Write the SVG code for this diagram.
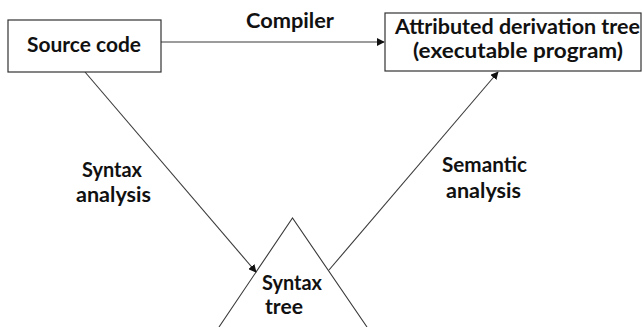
<svg xmlns="http://www.w3.org/2000/svg" width="643" height="327" viewBox="0 0 643 327">
  <defs>
    <style>
      .box { fill: #ffffff; stroke: #333333; stroke-width: 1.2; }
      .edge { fill: none; stroke: #3a3a3a; stroke-width: 1.1; }
      .lbl { font-family: Lato, "Open Sans", sans-serif; font-weight: bold; font-size: 20px; fill: #111111; }
    </style>
    <marker id="arrow" viewBox="0 0 10 10" refX="9" refY="5" markerWidth="8" markerHeight="8" markerUnits="userSpaceOnUse" orient="auto">
      <path d="M0,0 L10,5 L0,10 z" fill="#111111"/>
    </marker>
  </defs>
  <rect width="643" height="327" fill="#ffffff"/>

  <g id="syntax-tree">
    <polyline class="edge" points="219,327 292.5,218 367,327"/>
    <text class="lbl" x="262" y="290" textLength="60" lengthAdjust="spacingAndGlyphs">Syntax</text>
    <text class="lbl" x="265" y="314" textLength="38" lengthAdjust="spacingAndGlyphs">tree</text>
  </g>

  <g id="connectors">
    <line class="edge" x1="161" y1="42" x2="384" y2="42" marker-end="url(#arrow)"/>
    <line class="edge" x1="85" y1="72" x2="256" y2="272" marker-end="url(#arrow)"/>
    <line class="edge" x1="329" y1="270" x2="498" y2="72" marker-end="url(#arrow)"/>
    <text class="lbl" x="246" y="28" textLength="88" lengthAdjust="spacingAndGlyphs">Compiler</text>
    <text class="lbl" x="82" y="177" textLength="60" lengthAdjust="spacingAndGlyphs">Syntax</text>
    <text class="lbl" x="76" y="202" textLength="75" lengthAdjust="spacingAndGlyphs">analysis</text>
    <text class="lbl" x="442" y="172" textLength="85" lengthAdjust="spacingAndGlyphs">Semantic</text>
    <text class="lbl" x="446" y="198" textLength="75" lengthAdjust="spacingAndGlyphs">analysis</text>
  </g>

  <g id="source-code">
    <rect class="box" x="8" y="20" width="153" height="52"/>
    <text class="lbl" x="27" y="52" textLength="114" lengthAdjust="spacingAndGlyphs">Source code</text>
  </g>

  <g id="derivation-tree">
    <rect class="box" x="385" y="13" width="256" height="58"/>
    <text class="lbl" x="395" y="34" textLength="245" lengthAdjust="spacingAndGlyphs">Attributed derivation tree</text>
    <text class="lbl" x="413" y="58" textLength="210" lengthAdjust="spacingAndGlyphs">(executable program)</text>
  </g>
</svg>
